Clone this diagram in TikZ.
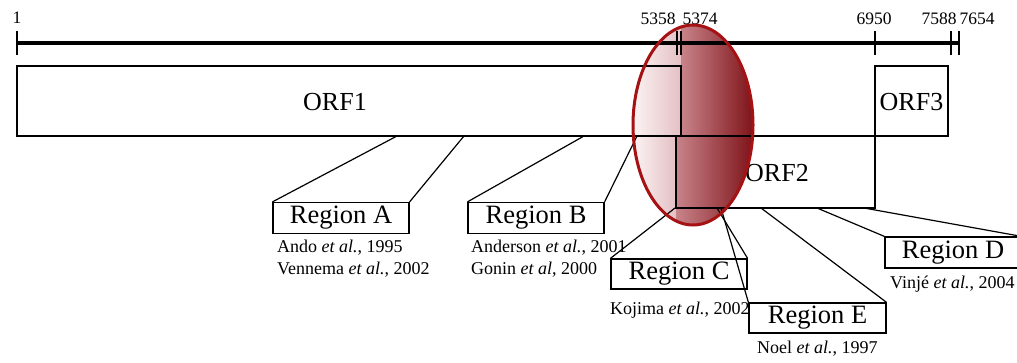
\documentclass[tikz,border=0pt]{standalone}
\usepackage{fontspec}
\setmainfont{Liberation Serif}
\begin{document}
\begin{tikzpicture}[x=1pt,y=-1pt,
  box/.style={draw=black,line width=1.2pt,inner sep=0pt},
  regbox/.style={box,minimum width=136pt,minimum height=31pt,font=\fontsize{26.5}{26.5}\selectfont},
  orftext/.style={inner sep=0pt,font=\fontsize{26}{26}\selectfont},
  numtext/.style={inner sep=0pt,anchor=base,font=\fontsize{17.5}{17.5}\selectfont},
  citetext/.style={inner sep=0pt,anchor=base west,font=\fontsize{18}{18}\selectfont},
  tickmark/.style={line width=1.3pt},
  zoomline/.style={line width=1.2pt}]
\useasboundingbox (0,0) rectangle (1017,362);
\definecolor{ovalline}{RGB}{165,18,20}
\definecolor{ovalA}{RGB}{252,244,244}
\definecolor{ovalB}{RGB}{228,192,196}
\definecolor{ovalC}{RGB}{200,132,138}
\definecolor{ovalD}{RGB}{125,18,24}

% highlighted junction oval (fill), lighter to the left of the ORF boundary
\begin{scope}
  \clip (693,125) ellipse [x radius=60, y radius=100];
  \shade[left color=ovalA,right color=ovalB] (632,24) rectangle (681,136);
  \shade[left color=ovalA,right color=ovalB] (632,136) rectangle (676,226);
  \shade[left color=ovalC,right color=ovalD] (681,24) rectangle (754,136);
  \shade[left color=ovalC,right color=ovalD] (676,136) rectangle (754,226);
\end{scope}

% genome ruler
\coordinate (r0) at (17,43);
\coordinate (r1) at (959,43);
\draw[line width=4pt] (r0) -- (r1);
\foreach \x/\n in {17/a,677/b,681/c,875/d,951/e,959/f}
  \draw[tickmark] (\x,31) coordinate (t\n top) -- (\x,55) coordinate (t\n bot);
\node[numtext] (n1) at (17,23) {1};
\node[numtext] (n5358) at (658,24) {5358};
\node[numtext] (n5374) at (700,24) {5374};
\node[numtext] (n6950) at (874,24) {6950};
\node[numtext] (n7588) at (939,24) {7588};
\node[numtext] (n7654) at (977,24) {7654};

% open reading frames
\node[box,minimum width=664pt,minimum height=70pt] (orf1) at (349,101) {};
\node[orftext] (orf1t) at (335,102) {ORF1};
\node[box,minimum width=199pt,minimum height=72pt] (orf2) at (775.5,172) {};
\node[orftext] (orf2t) at (777,173) {ORF2};
\node[box,minimum width=73pt,minimum height=70pt] (orf3) at (911.5,101) {};
\node[orftext] (orf3t) at (911.5,102) {ORF3};

% region boxes
\node[regbox] (ra) at (341,218) {Region A};
\node[regbox] (rb) at (536,218) {Region B};
\node[regbox,minimum height=30pt] (rc) at (679,274) {Region C};
\node[regbox,minimum height=30pt,minimum width=137pt] (re) at (817.5,318) {Region E};
\node[regbox] (rd) at (953,252.5) {Region D};

% region end points on the ORFs
\coordinate (pa1) at (397,136);
\coordinate (pa2) at (464,136);
\coordinate (pb1) at (584,136);
\coordinate (pb2) at (637,136);
\coordinate (pc1) at (675,208);
\coordinate (pc2) at (717,208);
\coordinate (pe1) at (721,208);
\coordinate (pe2) at (761,208);
\coordinate (pd1) at (817,208);
\coordinate (pd2) at (864,208);

\draw[zoomline] (ra.north west) -- (pa1) (ra.north east) -- (pa2);
\draw[zoomline] (rb.north west) -- (pb1) (rb.north east) -- (pb2);
\draw[zoomline] (rc.north west) -- (pc1) (rc.north east) -- (pc2);
\draw[zoomline] (re.north west) -- (pe1) (re.north east) -- (pe2);
\draw[zoomline] (rd.north west) -- (pd1) (rd.north east) -- (pd2);

% references
\node[citetext] (ca1) at (277,252) {Ando \textit{et al.}, 1995};
\node[citetext] (ca2) at (277,274) {Vennema \textit{et al.}, 2002};
\node[citetext] (cb1) at (471,252) {Anderson \textit{et al.}, 2001};
\node[citetext] (cb2) at (471,274) {Gonin \textit{et al}, 2000};
\node[citetext] (cc1) at (610,314) {Kojima \textit{et al.}, 2002};
\node[citetext] (ce1) at (757,353) {Noel \textit{et al.}, 1997};
\node[citetext] (cd1) at (890,288) {Vinjé \textit{et al.}, 2004};

% oval outline
\draw[ovalline,line width=3pt] (693,125) ellipse [x radius=60, y radius=100];
\end{tikzpicture}
\end{document}
